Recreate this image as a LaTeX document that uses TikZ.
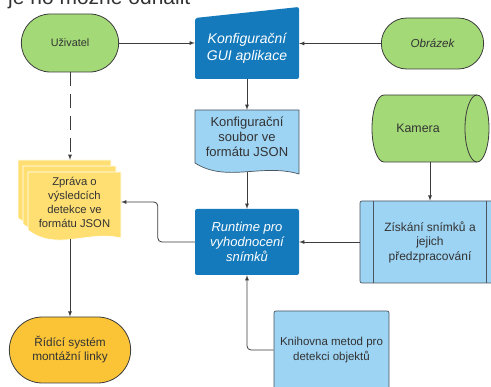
\documentclass[tikz,border=0pt]{standalone}
\usepackage{fontspec}
\setmainfont{Liberation Sans}
\usetikzlibrary{arrows,shapes.misc}
\definecolor{tmavamodra}{RGB}{20,122,188}
\definecolor{svetlemodra}{RGB}{157,211,243}
\definecolor{zelena}{RGB}{163,217,119}
\definecolor{zluta}{RGB}{255,223,113}
\definecolor{oranzova}{RGB}{251,196,54}
\definecolor{textc}{RGB}{51,51,51}
\definecolor{cara}{RGB}{60,60,60}
\definecolor{okraj}{RGB}{75,85,95}
\pgfdeclarelayer{bg}
\pgfsetlayers{bg,main}
\tikzstyle{stadion}=[rounded rectangle,draw=cara,line width=0.8pt,text=textc,align=center]
\tikzstyle{blok}=[rectangle,inner sep=0pt,align=center,text=textc]
\tikzstyle{ramec}=[draw=okraj,line width=0.7pt,fill=svetlemodra,rounded corners=2pt]
\tikzstyle{arr}=[draw=cara,line width=0.8pt,->,>=latex]

\begin{document}
\begin{tikzpicture}[x=1pt,y=-1pt]
    \clip (0,0) rectangle (491,387);
    % clipped line of text above the chart
    \node[anchor=base west,inner sep=0pt,text=textc,font=\fontsize{21}{25}\selectfont] (nadpis) at (8,5) {je ho možné odhalit};

    \node[stadion,fill=zelena,minimum width=104pt,minimum height=58pt,font=\fontsize{10.8}{13}\selectfont] (uziv) at (70,43) {Uživatel};
    \node[stadion,fill=zelena,minimum width=109pt,minimum height=51pt,font=\fontsize{11.6}{14}\selectfont\itshape] (obr) at (432.5,43.5) {Obrázek};
    \node[blok,text=white,minimum width=104pt,minimum height=61pt,font=\fontsize{14}{17}\selectfont\itshape] (gui) at (247,48.5) {Konfigurační\\GUI aplikace};
    \node[blok,minimum width=104pt,minimum height=54pt,font=\fontsize{13}{15}\selectfont] (conf) at (247,137) {Konfigurační\\soubor ve\\formátu JSON};
    \node[blok,minimum width=92pt,minimum height=67pt,font=\fontsize{12.4}{15}\selectfont] (cam) at (418,128.5) {Kamera};
    \node[blok,ramec,minimum width=140pt,minimum height=82pt,font=\fontsize{12}{14.5}\selectfont] (zisk) at (430,242) {Získání snímků a\\jejich\\předzpracování};
    \node[blok,fill=tmavamodra,text=white,rounded corners=2pt,minimum width=104pt,minimum height=66pt,font=\fontsize{13}{15}\selectfont\itshape] (run) at (247,242) {Runtime pro\\vyhodnocení\\snímků};
    \node[blok,minimum width=93pt,minimum height=60pt,font=\fontsize{11.25}{14}\selectfont] (zpr) at (74.5,202) {Zpráva o\\výsledcích\\detekce ve\\formátu JSON};
    \node[stadion,fill=oranzova,minimum width=128pt,minimum height=66pt,font=\fontsize{11.8}{14}\selectfont] (ridi) at (70,350) {Řídící systém\\montážní linky};
    \node[blok,ramec,minimum width=115pt,minimum height=78pt,font=\fontsize{11.5}{14.3}\selectfont] (knih) at (331.5,350) {Knihovna metod pro\\detekci objektů};

    % side bars of the predefined process
    \draw[okraj,line width=0.7pt] ([xshift=14pt]zisk.north west) -- ([xshift=14pt]zisk.south west);
    \draw[okraj,line width=0.7pt] ([xshift=-14pt]zisk.north east) -- ([xshift=-14pt]zisk.south east);

    \coordinate (zprtop) at ([xshift=-4.5pt,yshift=12pt]zpr.north);
    \coordinate (zprbot) at ([xshift=-4.5pt,yshift=-7pt]zpr.south);

    \begin{pgfonlayer}{bg}
        % manual input shape
        \fill[tmavamodra,rounded corners=2pt] (195,79) -- (195,18) -- (299,7) -- (299,79) -- cycle;
        % document shape
        \filldraw[fill=svetlemodra,draw=okraj,line width=0.7pt] (195,163) -- (195,110) -- (299,110) -- (299,174)
            .. controls (262,163) and (226,183) .. (195,163) -- cycle;
        % stacked documents
        \foreach \dx/\dy in {0/0,5/6,10/12}
            \filldraw[fill=zluta,draw=white,line width=0.6pt] ({18+\dx},{160+\dy}) -- ({18+\dx},{218+\dy})
                .. controls ({46+\dx},{240+\dy}) and ({78+\dx},{218+\dy}) .. ({111+\dx},{226+\dy})
                -- ({111+\dx},{160+\dy}) -- cycle;
        % camera cylinder
        \filldraw[fill=zelena,draw=cara,line width=0.8pt] (384,95) -- (477,95)
            arc[start angle=90,end angle=-90,x radius=12pt,y radius=33.5pt] -- (384,162)
            arc[start angle=270,end angle=90,x radius=12pt,y radius=33.5pt] -- cycle;
        \draw[cara,line width=0.8pt] (477,95) arc[start angle=90,end angle=270,x radius=12pt,y radius=33.5pt];
    \end{pgfonlayer}

    \draw[arr] (uziv.east) -- (uziv.east -| gui.west);
    \draw[arr] (obr.west) -- (obr.west -| gui.east);
    \draw[arr] (gui.south) -- (conf.north);
    \draw[arr] ([yshift=-8pt]conf.south) -- (run.north);
    \draw[arr] (zisk.north |- cam.south) -- (zisk.north);
    \draw[arr] (zisk.west) -- (run.east);
    \draw[arr,rounded corners=4pt] (run.west) -- ++(-37,0) |- (zpr.east);
    \draw[arr,dash pattern=on 14pt off 8pt] (uziv.south) -- (zprtop);
    \draw[arr] (zprbot) -- (ridi.north);
    \draw[arr,rounded corners=4pt] (knih.west) -| (run.south);
\end{tikzpicture}
\end{document}
